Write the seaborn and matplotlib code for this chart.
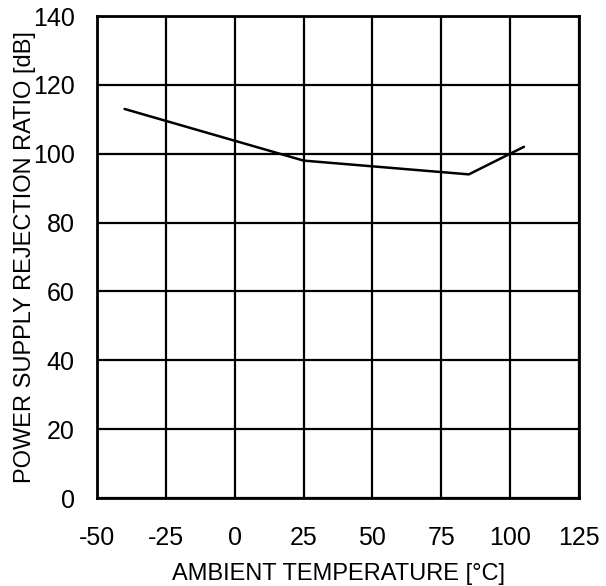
import matplotlib
matplotlib.use("Agg")
import matplotlib.pyplot as plt
import seaborn as sns
import pandas as pd

# ----------------------------
# Data
# ----------------------------
temperature = [-40, 25, 85, 105]
psrr_db = [113, 98, 94, 102]

x_ticks = [-50, -25, 0, 25, 50, 75, 100, 125]
y_ticks = [0, 20, 40, 60, 80, 100, 120, 140]

df = pd.DataFrame({"temp": temperature, "psrr": psrr_db})

# ----------------------------
# Style
# ----------------------------
sns.set_style("white")
plt.rcParams["font.family"] = ["Liberation Sans", "DejaVu Sans"]
plt.rcParams["axes.unicode_minus"] = False

fig = plt.figure(figsize=(6.06, 5.86), dpi=100)
ax = fig.add_axes([97 / 606, 1 - 498 / 586, 482 / 606, 482 / 586])

sns.lineplot(data=df, x="temp", y="psrr", color="black", linewidth=1.8, ax=ax)

ax.set_xlim(-50, 125)
ax.set_ylim(0, 140)
ax.set_xticks(x_ticks)
ax.set_yticks(y_ticks)
ax.grid(True, color="black", linewidth=1.6)
ax.set_axisbelow(True)
for s in ax.spines.values():
    s.set_color("black")
    s.set_linewidth(2)

ax.tick_params(axis="both", length=0, labelsize=18, colors="black")
ax.tick_params(axis="x", pad=20)
ax.tick_params(axis="y", pad=16)

ax.set_xlabel("AMBIENT TEMPERATURE [°C]", fontsize=17, color="black")
ax.set_ylabel("POWER SUPPLY REJECTION RATIO [dB]", fontsize=17, color="black")
ax.xaxis.set_label_coords(0.5, -0.135)
ax.yaxis.set_label_coords(-0.127, 0.5)

fig.savefig("out.png", dpi=100)
